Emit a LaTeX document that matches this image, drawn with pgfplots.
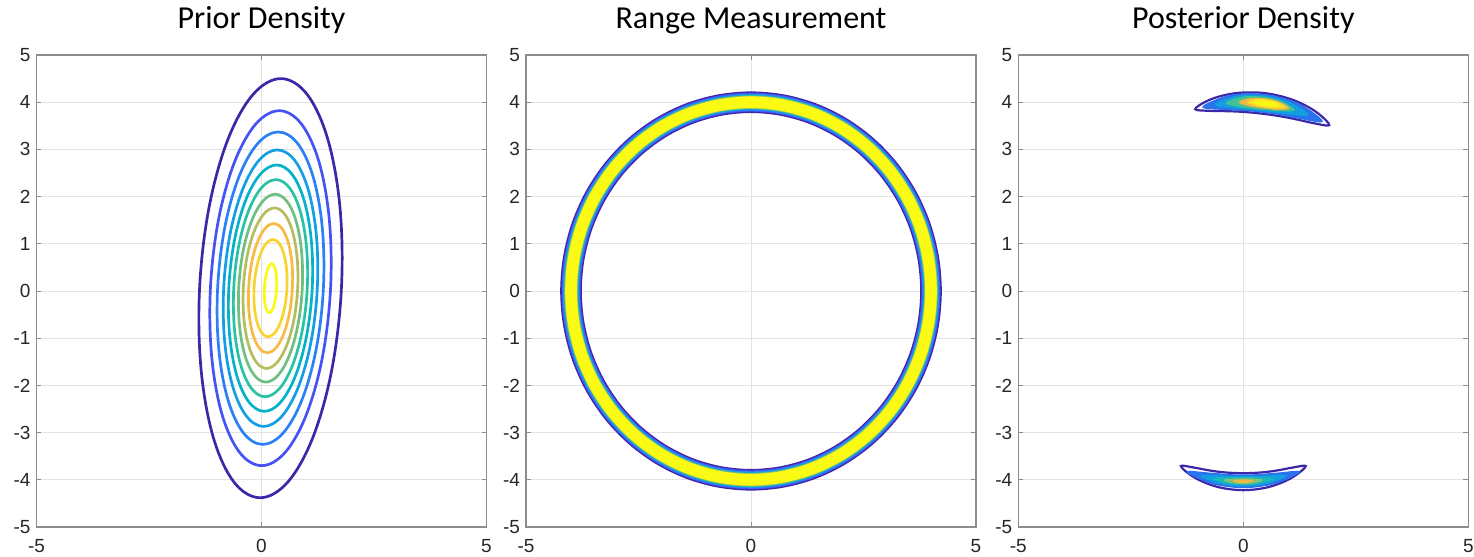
\documentclass[border=0pt]{standalone}
\usepackage{fontspec}
\setmainfont{Carlito}
\newfontfamily\tickfont{Liberation Sans}
\usepackage{pgfplots}
\usepackage{pgfplotstable}
\pgfplotsset{compat=1.18}

% parula-like contour colours
\definecolor{c0}{rgb}{0.24,0.15,0.66}
\definecolor{c1}{rgb}{0.28,0.32,0.96}
\definecolor{c2}{rgb}{0.17,0.50,0.97}
\definecolor{c3}{rgb}{0.08,0.62,0.89}
\definecolor{c4}{rgb}{0.02,0.70,0.79}
\definecolor{c5}{rgb}{0.16,0.76,0.64}
\definecolor{c6}{rgb}{0.44,0.75,0.50}
\definecolor{c7}{rgb}{0.71,0.74,0.37}
\definecolor{c8}{rgb}{0.97,0.73,0.27}
\definecolor{c9}{rgb}{0.98,0.83,0.18}
\definecolor{c10}{rgb}{0.98,0.98,0.08}
\definecolor{pb1}{rgb}{0.17,0.45,0.93}
\definecolor{pb2}{rgb}{0.07,0.62,0.88}
\definecolor{pb3}{rgb}{0.25,0.76,0.58}
\definecolor{pb3b}{rgb}{0.10,0.72,0.74}
\definecolor{pb4}{rgb}{0.93,0.72,0.28}
\definecolor{pb4b}{rgb}{0.50,0.77,0.45}
\definecolor{pb5}{rgb}{0.98,0.88,0.15}
\definecolor{pb6}{rgb}{0.98,0.97,0.08}

% mid line of the range ring (r = 4)
\pgfplotstableread{
x y
4 0
3.939 0.694
3.759 1.368
3.464 2.0
3.064 2.571
2.571 3.064
2.0 3.464
1.368 3.759
0.694 3.939
0 4
-0.694 3.939
-1.368 3.759
-2.0 3.464
-2.571 3.064
-3.064 2.571
-3.464 2.0
-3.759 1.368
-3.939 0.694
-4 0
-3.939 -0.694
-3.759 -1.368
-3.464 -2.0
-3.064 -2.571
-2.571 -3.064
-2.0 -3.464
-1.368 -3.759
-0.694 -3.939
0 -4
0.694 -3.939
1.368 -3.759
2.0 -3.464
2.571 -3.064
3.064 -2.571
3.464 -2.0
3.759 -1.368
3.939 -0.694
}\ringdata

\pgfplotsset{
  panel/.style={
    width=225pt, height=236pt, scale only axis,
    anchor=south west,
    xmin=-5, xmax=5, ymin=-5, ymax=5,
    xtick={-5,0,5}, xticklabels={-5,0,5},
    ytick={-5,-4,...,5}, yticklabels={-5,-4,-3,-2,-1,0,1,2,3,4,5},
    grid=major, grid style={black!11, line width=0.5pt},
    axis line style={black!45, line width=0.7pt},
    tick style={black!45, line width=0.5pt},
    major tick length=2.5pt,
    tick align=inside, xtick pos=both, ytick pos=both,
    ticklabel style={font=\tickfont\fontsize{9.5}{11}\selectfont, text=black!85},
    xticklabel style={yshift=-2.8pt},
    yticklabel style={xshift=0.5pt},
    title style={at={(0.5,1)}, anchor=base, yshift=7.4pt,
      font=\fontsize{16}{19}\selectfont},
  },
  ell/.style={line width=1.35pt, smooth cycle, tension=0.6, mark=none},
  ring/.style={line width=#1, smooth cycle, tension=0.55, mark=none},
  cres/.style={draw=#1, fill=#1, line width=0.5pt, smooth cycle, tension=0.6, mark=none},
}

\begin{document}
\begin{tikzpicture}
\useasboundingbox (-18.25pt,-15pt) rectangle (718.75pt,263.5pt);

\begin{axis}[panel, at={(0pt,0pt)}, title={Prior Density}]
\addplot[ell, draw=c0] coordinates {(1.776,0.06) (1.745,1.759) (1.478,3.200) (1.017,4.162) (0.431,4.50) (-0.190,4.162) (-0.751,3.200) (-1.168,1.759) (-1.376,0.06) (-1.345,-1.639) (-1.078,-3.080) (-0.617,-4.042) (-0.031,-4.38) (0.590,-4.042) (1.151,-3.080) (1.568,-1.639)};
\addplot[ell, draw=c1] coordinates {(1.535,0.06) (1.508,1.499) (1.282,2.719) (0.891,3.534) (0.396,3.82) (-0.131,3.534) (-0.605,2.719) (-0.958,1.499) (-1.135,0.06) (-1.108,-1.379) (-0.882,-2.599) (-0.491,-3.414) (0.004,-3.70) (0.531,-3.414) (1.005,-2.599) (1.358,-1.379)};
\addplot[ell, draw=c2] coordinates {(1.375,0.06) (1.352,1.327) (1.153,2.401) (0.809,3.118) (0.372,3.37) (-0.091,3.118) (-0.509,2.401) (-0.820,1.327) (-0.975,0.06) (-0.952,-1.207) (-0.753,-2.281) (-0.409,-2.998) (0.028,-3.25) (0.491,-2.998) (0.909,-2.281) (1.220,-1.207)};
\addplot[ell, draw=c3] coordinates {(1.240,0.06) (1.219,1.181) (1.043,2.132) (0.739,2.767) (0.352,2.99) (-0.058,2.767) (-0.428,2.132) (-0.703,1.181) (-0.840,0.06) (-0.819,-1.061) (-0.643,-2.012) (-0.339,-2.647) (0.048,-2.87) (0.458,-2.647) (0.828,-2.012) (1.103,-1.061)};
\addplot[ell, draw=c4] coordinates {(1.127,0.06) (1.108,1.059) (0.951,1.906) (0.680,2.471) (0.336,2.67) (-0.029,2.471) (-0.359,1.906) (-0.604,1.059) (-0.727,0.06) (-0.708,-0.939) (-0.551,-1.786) (-0.280,-2.351) (0.064,-2.55) (0.429,-2.351) (0.759,-1.786) (1.004,-0.939)};
\addplot[ell, draw=c5] coordinates {(1.017,0.06) (1.000,0.940) (0.862,1.686) (0.623,2.185) (0.320,2.36) (-0.002,2.185) (-0.293,1.686) (-0.509,0.940) (-0.617,0.06) (-0.600,-0.820) (-0.462,-1.566) (-0.223,-2.065) (0.080,-2.24) (0.402,-2.065) (0.693,-1.566) (0.909,-0.820)};
\addplot[ell, draw=c6] coordinates {(0.906,0.06) (0.892,0.822) (0.773,1.467) (0.566,1.899) (0.303,2.05) (0.025,1.899) (-0.226,1.467) (-0.413,0.822) (-0.506,0.06) (-0.492,-0.702) (-0.373,-1.347) (-0.166,-1.779) (0.097,-1.93) (0.375,-1.779) (0.626,-1.347) (0.813,-0.702)};
\addplot[ell, draw=c7] coordinates {(0.804,0.06) (0.791,0.711) (0.689,1.262) (0.513,1.631) (0.288,1.76) (0.051,1.631) (-0.164,1.262) (-0.324,0.711) (-0.404,0.06) (-0.391,-0.591) (-0.289,-1.142) (-0.113,-1.511) (0.112,-1.64) (0.349,-1.511) (0.564,-1.142) (0.724,-0.591)};
\addplot[ell, draw=c8] coordinates {(0.686,0.06) (0.677,0.584) (0.594,1.029) (0.452,1.326) (0.271,1.43) (0.080,1.326) (-0.093,1.029) (-0.222,0.584) (-0.286,0.06) (-0.277,-0.464) (-0.194,-0.909) (-0.052,-1.206) (0.129,-1.31) (0.320,-1.206) (0.493,-0.909) (0.622,-0.464)};
\addplot[ell, draw=c9] coordinates {(0.566,0.06) (0.558,0.454) (0.496,0.788) (0.389,1.012) (0.254,1.09) (0.109,1.012) (-0.021,0.788) (-0.117,0.454) (-0.166,0.06) (-0.158,-0.334) (-0.096,-0.668) (0.011,-0.892) (0.146,-0.97) (0.291,-0.892) (0.421,-0.668) (0.517,-0.334)};
\addplot[ell, draw=c10] coordinates {(0.335,0.06) (0.335,0.259) (0.315,0.428) (0.277,0.540) (0.227,0.58) (0.173,0.540) (0.124,0.428) (0.085,0.259) (0.065,0.06) (0.065,-0.139) (0.085,-0.308) (0.123,-0.420) (0.173,-0.46) (0.227,-0.420) (0.276,-0.308) (0.315,-0.139)};
\end{axis}

\begin{axis}[panel, at={(244.75pt,0pt)}, title={Range Measurement}]
\addplot[ring=10.8pt, draw=c0] table {\ringdata};
\addplot[ring=9.5pt, draw=c1] table {\ringdata};
\addplot[ring=8.5pt, draw=c2] table {\ringdata};
\addplot[ring=7.8pt, draw=c3] table {\ringdata};
\addplot[ring=7.0pt, draw=c5] table {\ringdata};
\addplot[ring=6.4pt, draw=c7] table {\ringdata};
\addplot[ring=5.8pt, draw=c10] table {\ringdata};
\end{axis}

\begin{axis}[panel, at={(490.9pt,0pt)}, title={Posterior Density}]
% upper crescent
\addplot[draw=c0, line width=1.1pt, smooth cycle, tension=0.6, mark=none] coordinates {(1.909,3.515) (1.678,3.752) (1.331,3.954) (0.953,4.096) (0.478,4.193) (-0.007,4.205) (-0.407,4.152) (-0.791,4.033) (-1.069,3.854) (-0.749,3.817) (-0.374,3.810) (-0.006,3.795) (0.428,3.756) (0.860,3.696) (1.221,3.628) (1.588,3.551)};
\addplot[cres=pb1] coordinates {(1.754,3.595) (1.294,3.935) (0.826,4.098) (0.474,4.163) (0.117,4.179) (-0.375,4.126) (-0.900,3.898) (-0.349,3.842) (0.107,3.818) (0.431,3.786) (0.755,3.744) (1.205,3.665)};
\addplot[cres=pb2] coordinates {(1.434,3.734) (1.066,3.980) (0.703,4.092) (0.435,4.137) (0.163,4.149) (-0.215,4.114) (-0.626,3.951) (-0.203,3.875) (0.151,3.845) (0.401,3.819) (0.651,3.793) (1.004,3.748)};
\addplot[cres=pb3] coordinates {(1.136,3.835) (0.859,4.007) (0.592,4.081) (0.396,4.111) (0.198,4.119) (-0.079,4.097) (-0.383,3.982) (-0.075,3.902) (0.186,3.872) (0.371,3.852) (0.556,3.837) (0.818,3.816)};
\addplot[cres=pb4] coordinates {(1.016,3.871) (0.813,3.995) (0.620,4.049) (0.479,4.073) (0.335,4.083) (0.135,4.075) (-0.090,4.000) (0.131,3.925) (0.320,3.894) (0.455,3.875) (0.591,3.862) (0.783,3.848)};
\addplot[cres=pb5] coordinates {(0.928,3.896) (0.774,3.986) (0.630,4.027) (0.526,4.046) (0.419,4.054) (0.269,4.053) (0.097,4.004) (0.262,3.941) (0.404,3.913) (0.506,3.897) (0.609,3.886) (0.754,3.877)};
\addplot[cres=pb6] coordinates {(0.791,3.926) (0.688,3.983) (0.592,4.009) (0.522,4.021) (0.451,4.028) (0.352,4.028) (0.237,3.998) (0.345,3.953) (0.441,3.933) (0.509,3.922) (0.578,3.915) (0.675,3.910)};
% lower crescent
\addplot[draw=c0, line width=1.1pt, smooth cycle, tension=0.6, mark=none] coordinates {(-1.387,-3.709) (-1.151,-3.913) (-0.814,-4.075) (-0.450,-4.177) (0,-4.22) (0.450,-4.177) (0.814,-4.075) (1.151,-3.913) (1.387,-3.709) (1.101,-3.740) (0.759,-3.801) (0.414,-3.843) (0,-3.86) (-0.414,-3.843) (-0.759,-3.801) (-1.101,-3.740)};
\addplot[cres=pb1] coordinates {(-1.245,-3.833) (-0.774,-4.058) (-0.326,-4.145) (0,-4.165) (0.326,-4.145) (0.774,-4.058) (1.245,-3.833) (0.736,-3.859) (0.306,-3.890) (0,-3.895) (-0.306,-3.890) (-0.736,-3.859)};
\addplot[cres=pb2] coordinates {(-0.941,-3.919) (-0.578,-4.064) (-0.243,-4.118) (0,-4.13) (0.243,-4.118) (0.578,-4.064) (0.941,-3.919) (0.557,-3.915) (0.232,-3.928) (0,-3.93) (-0.232,-3.928) (-0.557,-3.915)};
\addplot[cres=pb3b] coordinates {(-0.665,-3.975) (-0.406,-4.066) (-0.170,-4.097) (0,-4.105) (0.170,-4.097) (0.406,-4.066) (0.665,-3.975) (0.395,-3.955) (0.164,-3.955) (0,-3.955) (-0.164,-3.955) (-0.395,-3.955)};
\addplot[cres=pb4b] coordinates {(-0.421,-4.008) (-0.255,-4.060) (-0.107,-4.077) (0,-4.08) (0.107,-4.077) (0.255,-4.060) (0.421,-4.008) (0.251,-3.984) (0.104,-3.981) (0,-3.98) (-0.104,-3.981) (-0.251,-3.984)};
\addplot[cres=pb4] coordinates {(-0.211,-4.024) (-0.127,-4.050) (-0.053,-4.058) (0,-4.06) (0.053,-4.058) (0.127,-4.050) (0.211,-4.024) (0.126,-4.006) (0.052,-4.002) (0,-4.0) (-0.052,-4.002) (-0.126,-4.006)};
\end{axis}
\end{tikzpicture}
\end{document}
